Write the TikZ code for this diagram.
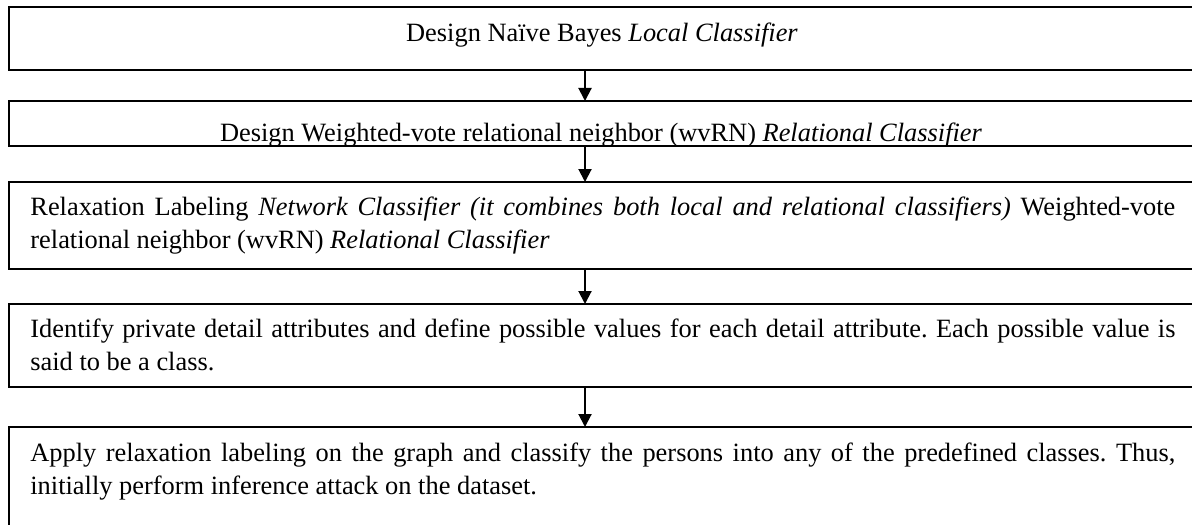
\documentclass[tikz,border=0pt]{standalone}
\usepackage{fontspec}
\setmainfont{Liberation Serif}
\usetikzlibrary{arrows.meta}
\frenchspacing
\tikzset{
  stagebox/.style={draw=black, line width=1pt},
  flow/.style={line width=1pt, -{Triangle[width=6.5pt,length=6.5pt]}},
  bodytext/.style={inner sep=0pt, font=\fontsize{13.2}{16.5}\selectfont},
  para/.style={bodytext, text width=572.5pt, align=justify, anchor=base west}
}
\begin{document}
\begin{tikzpicture}[x=0.5pt, y=-0.5pt]
  \useasboundingbox (0,0) rectangle (1192,524);
  \clip (0,0) rectangle (1192,524);

  % stage frames (open to the right, last one open at the bottom)
  \draw[stagebox] (9,7)   rectangle (1210,70);
  \draw[stagebox] (9,101) rectangle (1210,146);
  \draw[stagebox] (9,182) rectangle (1210,269);
  \draw[stagebox] (9,304) rectangle (1210,387);
  \draw[stagebox] (9,427) rectangle (1210,540);

  % anchor points on the frames for the connectors
  \coordinate (b1s) at (585,70);
  \coordinate (b2n) at (585,101);
  \coordinate (b2s) at (585,146);
  \coordinate (b3n) at (585,182);
  \coordinate (b3s) at (585,269);
  \coordinate (b4n) at (585,304);
  \coordinate (b4s) at (585,387);
  \coordinate (b5n) at (585,427);

  % stage texts; the second one is cut off by its too-short frame
  \node[bodytext, anchor=base] (t1) at (602,42) {Design Naïve Bayes \textit{Local Classifier}};
  \begin{scope}
    \clip (10,102) rectangle (1200,145);
    \node[bodytext, anchor=base] (t2) at (601,141) {Design Weighted-vote relational neighbor (wvRN) \textit{Relational Classifier}};
  \end{scope}
  \node[para] (t3) at (30,215) {Relaxation Labeling \textit{Network Classifier (it combines both local and relational classifiers)} Weighted-vote\linebreak relational neighbor (wvRN) \textit{Relational Classifier}};
  \node[para] (t4) at (30,337) {Identify private detail attributes and define possible values for each detail attribute. Each possible value is\linebreak said to be a class.};
  \node[para] (t5) at (30,461) {Apply relaxation labeling on the graph and classify the persons into any of the predefined classes. Thus,\linebreak initially perform inference attack on the dataset.};

  % connectors
  \draw[flow] (b1s) -- (b2n);
  \draw[flow] (b2s) -- (b3n);
  \draw[flow] (b3s) -- (b4n);
  \draw[flow] (b4s) -- (b5n);
\end{tikzpicture}
\end{document}
